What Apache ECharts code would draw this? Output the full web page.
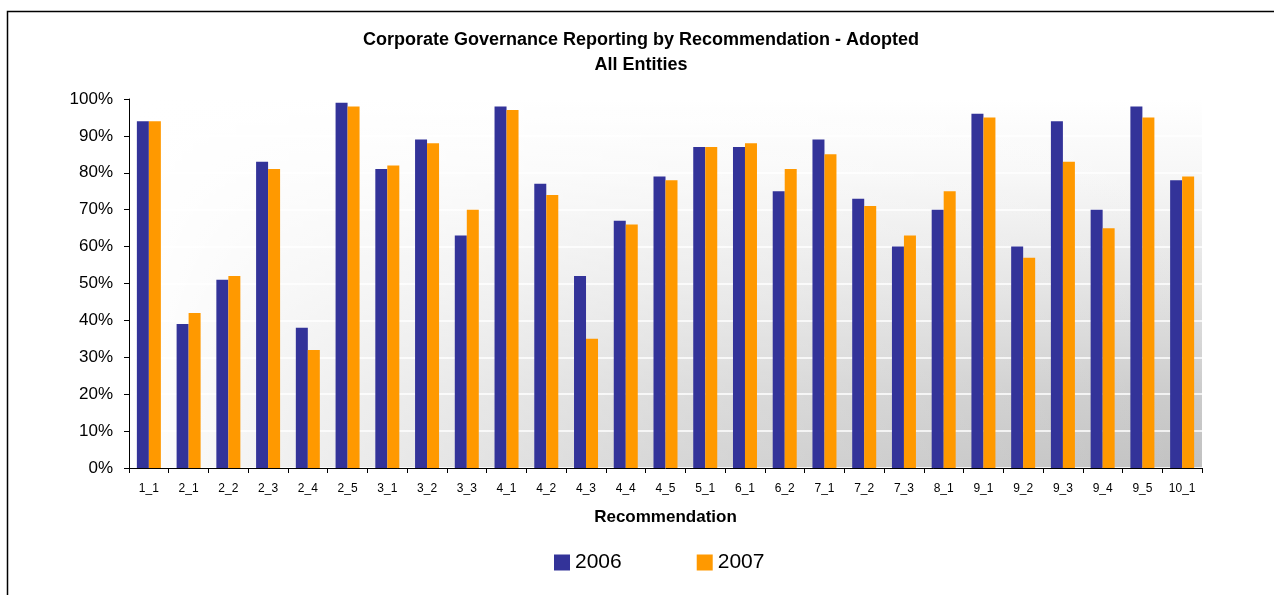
<!DOCTYPE html>
<html>
<head>
<meta charset="utf-8">
<style>
  html, body { margin: 0; padding: 0; background: #fff; }
  #chart { width: 1274px; height: 595px; }
</style>
<script src="https://cdn.jsdelivr.net/npm/echarts@6/dist/echarts.min.js"></script>
</head>
<body>
<div id="chart"></div>
<script>
// categories (recommendation codes)
const categories = ['1_1', '2_1', '2_2', '2_3', '2_4', '2_5', '3_1', '3_2', '3_3', '4_1', '4_2', '4_3', '4_4', '4_5',
  '5_1', '6_1', '6_2', '7_1', '7_2', '7_3', '8_1', '9_1', '9_2', '9_3', '9_4', '9_5', '10_1']
// % adopted per year
const values2006 = [94, 39, 51, 83, 38, 99, 81, 89, 63, 98, 77, 52, 67, 79, 87, 87, 75, 89, 73, 60, 70, 96, 60, 94, 70, 98, 78]
const values2007 = [94, 42, 52, 81, 32, 98, 82, 88, 70, 97, 74, 35, 66, 78, 87, 88, 81, 85, 71, 63, 75, 95, 57, 83, 65, 95, 79]
const seriesNames = ['2006', '2007']

const FONT = 'Liberation Sans, Arial, sans-serif'
// plot area
const plot = { left: 129, top: 99, width: 1073, height: 369 }

const chart = echarts.init(document.getElementById('chart'))

const option = {
  backgroundColor: '#fff',
  animation: false,
  title: {
    text: 'Corporate Governance Reporting by Recommendation - Adopted\nAll Entities',
    left: 641,
    top: 28,
    padding: 0,
    textAlign: 'center',
    textStyle: {
      fontFamily: FONT,
      fontSize: 18,
      fontWeight: 'bold',
      color: '#000',
      lineHeight: 25
    }
  },
  legend: {
    data: seriesNames,
    left: 549,
    top: 547,
    icon: 'rect',
    itemWidth: 16,
    itemHeight: 16,
    itemGap: 75,
    textStyle: { fontFamily: FONT, fontSize: 21, color: '#000' }
  },
  // frame and plot background
  graphic: [
    {
      type: 'rect',
      z: -20,
      shape: { x: 7.5, y: 11.5, width: 1400, height: 700 },
      style: { fill: 'none', stroke: '#000', lineWidth: 1.5 }
    },
    {
      type: 'rect',
      z: -12,
      shape: { x: plot.left, y: plot.top, width: plot.width, height: plot.height },
      style: {
        fill: new echarts.graphic.LinearGradient(0, 0, 0, 1, [
          { offset: 0, color: '#ffffff' },
          { offset: 0.2, color: '#f7f7f7' },
          { offset: 0.5, color: '#e3e3e3' },
          { offset: 0.8, color: '#cbcbcb' },
          { offset: 1, color: '#c1c1c1' }
        ])
      }
    },
    {
      type: 'rect',
      z: -11,
      shape: { x: plot.left, y: plot.top, width: plot.width, height: plot.height },
      style: {
        fill: new echarts.graphic.LinearGradient(0, 0, 1, 0, [
          { offset: 0, color: 'rgba(255,255,255,1)' },
          { offset: 0.15, color: 'rgba(255,255,255,0.75)' },
          { offset: 0.5, color: 'rgba(255,255,255,0.35)' },
          { offset: 1, color: 'rgba(255,255,255,0)' }
        ])
      }
    }
  ],
  grid: {
    left: plot.left,
    top: plot.top,
    width: plot.width,
    height: plot.height,
    containLabel: false
  },
  xAxis: {
    type: 'category',
    data: categories,
    name: 'Recommendation',
    nameLocation: 'middle',
    nameGap: 41,
    nameTextStyle: { fontFamily: FONT, fontSize: 17, fontWeight: 'bold', color: '#000' },
    axisLine: { lineStyle: { color: '#000', width: 1 } },
    axisTick: { show: true, length: 5, alignWithLabel: false, lineStyle: { color: '#000' } },
    axisLabel: { fontFamily: FONT, fontSize: 12, color: '#000', margin: 15, interval: 0 },
    splitLine: { show: false }
  },
  yAxis: {
    type: 'value',
    min: 0,
    max: 100,
    interval: 10,
    axisLine: { show: true, lineStyle: { color: '#000', width: 1 } },
    axisTick: { show: true, length: 5, lineStyle: { color: '#000' } },
    axisLabel: { fontFamily: FONT, fontSize: 17, color: '#000', margin: 16, formatter: '{value}%' },
    splitLine: { show: true, lineStyle: { color: '#ffffff', width: 1.5 } }
  },
  series: [
    {
      name: seriesNames[0],
      type: 'bar',
      data: values2006,
      barWidth: 12,
      barGap: '0%',
      itemStyle: { color: '#333399' }
    },
    {
      name: seriesNames[1],
      type: 'bar',
      data: values2007,
      barWidth: 12,
      barGap: '0%',
      itemStyle: { color: '#ff9900' }
    }
  ]
}

chart.setOption(option)
</script>
</body>
</html>
